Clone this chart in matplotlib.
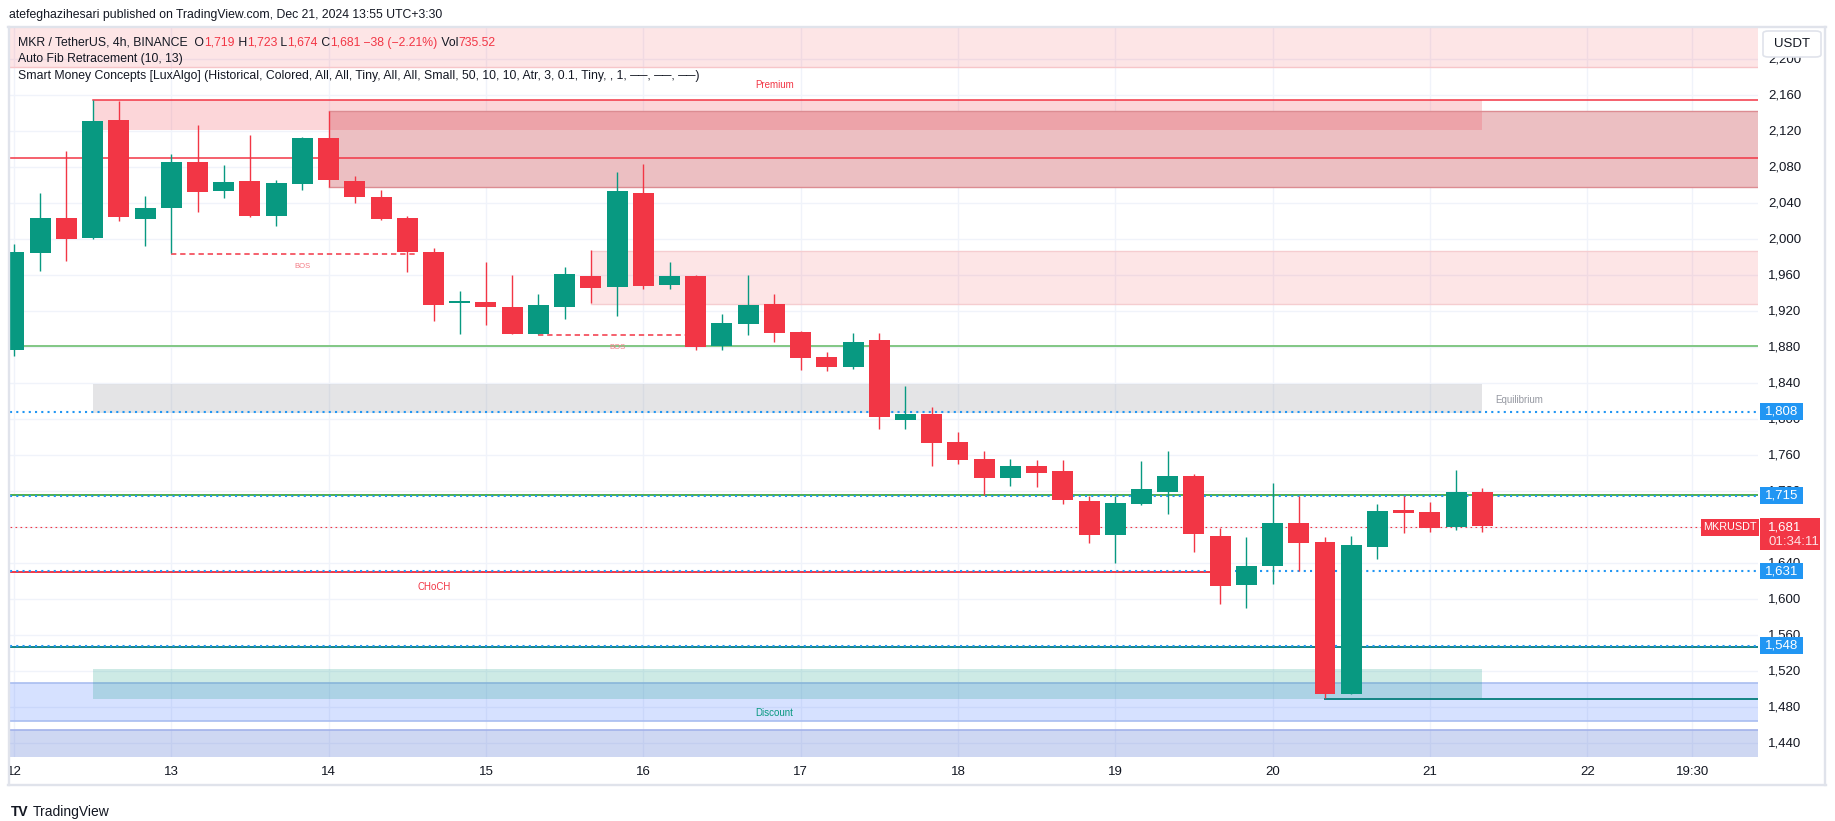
import matplotlib
matplotlib.use('Agg')
import matplotlib.pyplot as plt
from matplotlib.patches import Rectangle, FancyBboxPatch
from matplotlib.lines import Line2D
import numpy as np

FONT = ['Liberation Sans Narrow', 'Liberation Sans', 'DejaVu Sans']
plt.rcParams['font.family'] = FONT

# ---------------- data ----------------
opens = [1877, 1985, 2023, 2001, 2132, 2022, 2034, 2086, 2053, 2064,
         2026, 2061, 2112, 2065, 2047, 2023, 1986, 1929, 1930, 1925,
         1895, 1925, 1959, 1947, 2051, 1949, 1959, 1881, 1906, 1928,
         1897, 1869, 1858, 1888, 1799, 1806, 1775, 1756, 1734, 1748,
         1742, 1709, 1671, 1706, 1719, 1737, 1670, 1616, 1637, 1685,
         1663, 1495, 1658, 1699, 1697, 1680, 1719]
highs = [1994, 2051, 2098, 2154, 2153, 2048, 2094, 2127, 2082, 2116,
         2066, 2113, 2142, 2070, 2055, 2026, 1990, 1942, 1974, 1960,
         1939, 1969, 1988, 2074, 2083, 1974, 1960, 1917, 1960, 1939,
         1898, 1875, 1896, 1896, 1837, 1813, 1786, 1764, 1756, 1755,
         1754, 1715, 1715, 1753, 1764, 1739, 1679, 1669, 1729, 1715,
         1669, 1670, 1706, 1714, 1708, 1743, 1723]
lows = [1870, 1965, 1976, 2000, 2020, 1992, 1984, 2030, 2046, 2024,
        2015, 2055, 2058, 2040, 2021, 1963, 1909, 1895, 1904, 1894,
        1894, 1911, 1929, 1915, 1945, 1945, 1877, 1877, 1893, 1886,
        1855, 1853, 1856, 1789, 1789, 1748, 1750, 1716, 1726, 1724,
        1706, 1662, 1640, 1704, 1694, 1652, 1595, 1590, 1617, 1631,
        1490, 1494, 1645, 1673, 1674, 1677, 1674]
closes = [1986, 2023, 2000, 2131, 2024, 2035, 2086, 2052, 2063, 2026,
          2062, 2112, 2066, 2047, 2022, 1986, 1927, 1931, 1924, 1895,
          1927, 1961, 1946, 2053, 1948, 1959, 1880, 1907, 1927, 1896,
          1868, 1858, 1886, 1802, 1806, 1773, 1755, 1734, 1748, 1740,
          1710, 1671, 1707, 1722, 1737, 1672, 1615, 1637, 1684, 1662,
          1494, 1660, 1698, 1696, 1679, 1719, 1681]

day_labels = ['12', '13', '14', '15', '16', '17', '18', '19', '20', '21', '22']
day_index = [0, 6, 12, 18, 24, 30, 36, 42, 48, 54, 60]
time_label = '19:30'
time_label_index = 64

price_ticks = list(range(1440, 2201, 40))

# overlay zones (price ranges)
top_band = (2191, 2260)
premium_zone = (2121.5, 2154)
ob_zone = (2057.4, 2142.2)
supply_zone = (1928, 1987)
equilibrium_zone = (1807, 1839)
demand_zone = (1489, 1522.2)
discount_zone = (1464, 1506.3)
low_zone = (1380, 1454)

# horizontal levels
swing_high_line = 2154.4
fib_red_line = 2089.6
green_level = 1881.5
blue_levels = [1808, 1714, 1631.5, 1548]
green_solid = 1715.4
choch_level = 1630.2
teal_level = 1547
last_price = 1680.5
low_line = 1488.6

bos_lines = [(1983.3, 6.0, 15.4), (1893.0, 20.0, 25.6)]

price_tags = [('1,808', 1808), ('1,715', 1715), ('1,631', 1631), ('1,548', 1548)]

# ---------------- figure ----------------
W, H, DPI = 1835, 821, 100
fig = plt.figure(figsize=(W / DPI, H / DPI), dpi=DPI)
fig.patch.set_facecolor('white')


def fx(x):
    return x / W


def fy(y):
    return 1 - y / H


PL, PR, PT, PB = 10, 1758, 27, 757
X0, DX = 14.0, 26.22
ax = fig.add_axes([fx(PL), fy(PB), fx(PR) - fx(PL), fy(PT) - fy(PB)])
xmin, xmax = (PL - X0) / DX, (PR - X0) / DX
ymax = 2160 + (95 - PT) / 0.9
ymin = 2160 - (PB - 95) / 0.9
ax.set_xlim(xmin, xmax)
ax.set_ylim(ymin, ymax)
ax.axis('off')

GREEN = '#089981'
RED = '#f23645'
BLUE = '#2196f3'
GRID = '#f0f3fa'

# grid
for p in price_ticks:
    ax.axhline(p, color=GRID, lw=1.0, zorder=0)
for d in day_index + [time_label_index]:
    ax.axvline(d, color=GRID, lw=1.0, zorder=0)


def box(y0, y1, x0=None, x1=None, **kw):
    x0 = xmin if x0 is None else x0
    x1 = xmax if x1 is None else x1
    ax.add_patch(Rectangle((x0, y0), x1 - x0, y1 - y0, **kw))


n = len(opens)
last = n - 1
# zones
box(*top_band, facecolor=RED, alpha=0.13, lw=0, zorder=1)
ax.axhline(top_band[0], color='#f7c6c9', lw=1.0, zorder=1)
box(*ob_zone, x0=12, facecolor='#ecbfc2', lw=0, zorder=1)
ax.plot([12, xmax], [ob_zone[0]] * 2, color='#dc8c92', lw=1.0, zorder=2)
ax.plot([12, xmax], [ob_zone[1]] * 2, color='#dc8c92', lw=1.0, zorder=2)
box(*premium_zone, x0=3, x1=last, facecolor=RED, alpha=0.2, lw=0, zorder=1.5)
box(*supply_zone, x0=22, facecolor=RED, alpha=0.13, lw=0, zorder=1)
ax.plot([22, xmax], [supply_zone[0]] * 2, color='#f5cdd0', lw=1.0, zorder=1.2)
ax.plot([22, xmax], [supply_zone[1]] * 2, color='#f5cdd0', lw=1.0, zorder=1.2)
box(*equilibrium_zone, x0=3, x1=last, facecolor='#787b86', alpha=0.2, lw=0, zorder=1)
box(*discount_zone, facecolor='#2962ff', alpha=0.19, lw=0, zorder=1)
ax.axhline(discount_zone[0], color='#a9bdf0', lw=1.2, zorder=1.2)
ax.axhline(discount_zone[1], color='#a9bdf0', lw=1.2, zorder=1.2)
box(*demand_zone, x0=3, x1=last, facecolor=GREEN, alpha=0.2, lw=0, zorder=1.5)
box(*low_zone, facecolor='#3f63cf', alpha=0.25, lw=0, zorder=1)
ax.axhline(low_zone[1], color='#a2b2ea', lw=1.2, zorder=1.2)

# lines
ax.plot([3, xmax], [swing_high_line] * 2, color=RED, lw=1.1, zorder=3)
ax.axhline(fib_red_line, color=RED, lw=1.1, zorder=3)
ax.axhline(green_level, color='#81c784', lw=1.4, zorder=3)
ax.axhline(green_solid, color='#4caf50', lw=1.4, zorder=3)
ax.plot([xmin, 45.6], [choch_level] * 2, color=RED, lw=1.4, zorder=3)
ax.axhline(teal_level, color='#138484', lw=1.4, zorder=3)
for b in blue_levels:
    ax.axhline(b, color=BLUE, lw=1.5, ls=(0, (1, 2)), zorder=3.2)
ax.axhline(last_price, color=RED, lw=0.8, ls=(0, (1.5, 3)), zorder=3)
ax.plot([50, xmax], [low_line] * 2, color='#138484', lw=1.4, zorder=3)
for p, a, b in bos_lines:
    ax.plot([a, b], [p, p], color=RED, lw=1.1, ls=(0, (3.5, 2.5)), zorder=3)

# labels on chart
ax.text(11.0, 1970, 'BOS', color='#f47c85', fontsize=5.5, ha='center', va='center', zorder=6)
ax.text(23.0, 1879.2, 'BOS', color='#f47c85', fontsize=5.5, ha='center', va='center', zorder=6)
ax.text(16.04, 1613.7, 'CHoCH', color=RED, fontsize=7, ha='center', va='center', zorder=6)
ax.text(29.0, 2171.4, 'Premium', color=RED, fontsize=7, ha='center', va='center', zorder=6)
ax.text(56.5, 1821, 'Equilibrium', color='#9598a1', fontsize=7, ha='left', va='center', zorder=6)
ax.text(29.0, 1473, 'Discount', color=GREEN, fontsize=7, ha='center', va='center', zorder=6)

# candles
idx = np.arange(n)
o = np.array(opens, float)
c = np.array(closes, float)
cols = [GREEN if cc >= oo else RED for oo, cc in zip(o, c)]
bottoms = np.minimum(o, c)
heights = np.maximum(np.abs(c - o), 1.3)
ax.vlines(idx, lows, highs, colors=cols, lw=1.0, zorder=4)
ax.bar(idx, heights, bottom=bottoms, width=0.8, color=cols, linewidth=0, zorder=5)

# ---------------- right price axis ----------------
ax2 = fig.add_axes([fx(PR), fy(PB), fx(1825) - fx(PR), fy(PT) - fy(PB)])
ax2.set_xlim(0, 1825 - PR)
ax2.set_ylim(ymin, ymax)
ax2.axis('off')
for p in price_ticks:
    ax2.text(10, p, f'{p:,}', color='#131722', fontsize=9.5, ha='left', va='center', zorder=1)
for lab, p in price_tags:
    ax2.add_patch(Rectangle((2, p - 9.3), 43, 18.6, facecolor=BLUE, lw=0, zorder=5))
    ax2.text(23.5, p, lab, color='white', fontsize=9.5, ha='center', va='center', zorder=6)
y_top = 2160 - (518 - 95) / 0.9
y_bot = 2160 - (550 - 95) / 0.9
ax2.add_patch(Rectangle((2, y_bot), 60, y_top - y_bot, facecolor=RED, lw=0, zorder=5))
ax2.text(10, 2160 - (527 - 95) / 0.9, '1,681', color='white', fontsize=9.5,
         ha='left', va='center', zorder=6)
ax2.text(10, 2160 - (542 - 95) / 0.9, '01:34:11', color='#fde2e4', fontsize=9.5,
         ha='left', va='center', zorder=6)

# MKRUSDT tag
fig.add_artist(Rectangle((fx(1700.5), fy(535.5)), fx(58), 16.5 / H, transform=fig.transFigure,
                         facecolor=RED, lw=0, zorder=10))
fig.text(fx(1729.5), fy(527), 'MKRUSDT', color='white', fontsize=7.8,
         ha='center', va='center', zorder=11)

# USDT button
fig.add_artist(FancyBboxPatch((fx(1763), fy(57)), fx(58), 26 / H, transform=fig.transFigure,
                              boxstyle='round,pad=0,rounding_size=0.003',
                              facecolor='white', edgecolor='#e0e3eb', lw=1.2, zorder=10))
fig.text(fx(1792), fy(44), 'USDT', color='#131722', fontsize=9.5, ha='center', va='center', zorder=11)

# time axis labels
for lab, d in zip(day_labels, day_index):
    fig.text(fx(X0 + d * DX), fy(772), lab, color='#131722', fontsize=9.5, ha='center', va='center')
fig.text(fx(X0 + time_label_index * DX), fy(772), time_label, color='#131722', fontsize=9.5,
         ha='center', va='center')

# frame
FR = '#e0e3eb'
for (x0, y0, x1, y1) in [(8, 26.7, 1826, 26.7), (9, 26.7, 9, 785), (1825, 26.7, 1825, 785),
                         (8, 785, 1826, 785)]:
    fig.add_artist(Line2D([fx(x0), fx(x1)], [fy(y0), fy(y1)], color=FR, lw=1.7,
                          transform=fig.transFigure, zorder=9))

# ---------------- header / legend text ----------------
renderer = fig.canvas.get_renderer()
DARK = '#131722'


def runs(x, y, parts, size):
    for s, col in parts:
        t = fig.text(fx(x), fy(y), s, color=col, fontsize=size, ha='left', va='center', zorder=12)
        bb = t.get_window_extent(renderer=renderer)
        x += bb.width


FS = 8.8
runs(9, 15, [('atefeghazihesari published on TradingView.com, Dec 21, 2024 13:55 UTC+3:30', DARK)], FS)
runs(18, 42.7, [('MKR / TetherUS, 4h, BINANCE  O', DARK), ('1,719', RED), (' H', DARK), ('1,723', RED),
                (' L', DARK), ('1,674', RED), (' C', DARK), ('1,681', RED),
                (' \u221238 (\u22122.21%)', RED), (' Vol', DARK), ('735.52', RED)], FS)
runs(18, 59.3, [('Auto Fib Retracement (10, 13)', DARK)], FS)
runs(18, 76, [('Smart Money Concepts [LuxAlgo] (Historical, Colored, All, All, Tiny, All, All, Small, '
               '50, 10, 10, Atr, 3, 0.1, Tiny, , 1, \u2500\u2500, \u2500\u2500, \u2500\u2500)', DARK)], FS)

# TradingView logo
fig.text(fx(11), fy(812), 'TV', color='#131722', fontsize=10, fontweight='heavy', ha='left', va='center')
fig.text(fx(33), fy(812), 'TradingView', color='#131722', fontsize=10, ha='left', va='center')

fig.savefig('out.png', dpi=DPI)
